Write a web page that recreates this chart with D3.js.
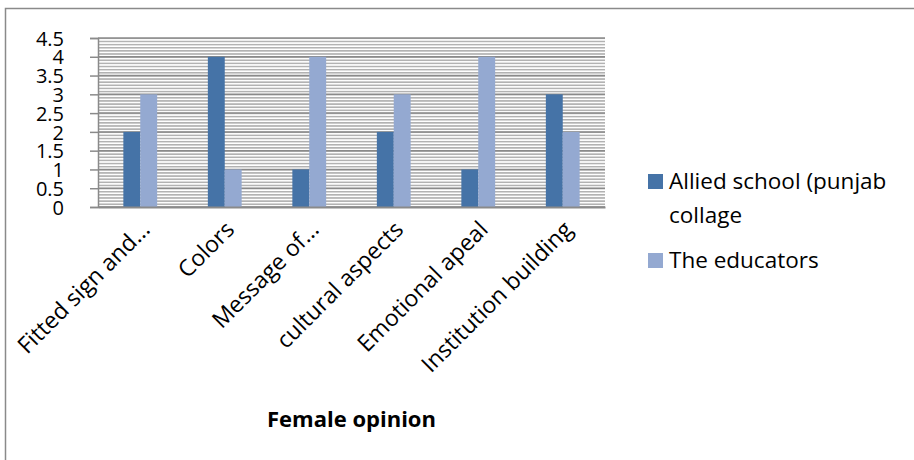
<!DOCTYPE html>
<html><head><meta charset="utf-8">
<script src="https://cdn.jsdelivr.net/npm/d3@7"></script>
<style>html,body{margin:0;padding:0;background:#fff;}svg{display:block;}</style>
</head><body>
<svg id="c" width="914" height="460"></svg>
<script>
const categories = ["Fitted sign and...", "Colors", "Message of...", "cultural aspects", "Emotional apeal", "Institution building"];
const seriesNames = ["Allied school (punjab collage", "The educators"];
const allied = [2, 4, 1, 2, 1, 3];
const educators = [3, 1, 4, 3, 4, 2];
const yTicks = [0, 0.5, 1, 1.5, 2, 2.5, 3, 3.5, 4, 4.5];
const xTitle = "Female opinion";

const colors = ["#4573a7", "#94a9d1"];
const font = "'Open Sans', sans-serif";
const svg = d3.select("#c");

// outer frame
svg.append("rect").attr("x", 5.5).attr("y", 8.5).attr("width", 920).attr("height", 470)
  .attr("fill", "none").attr("stroke", "#8a8a8a").attr("stroke-width", 1.5);

const L = 98, R = 605, T = 38, B = 207;
const x = d3.scaleBand().domain(categories).range([L, R]).paddingInner(0.6).paddingOuter(0.3);
const xs = d3.scaleBand().domain([0, 1]).range([0, x.bandwidth()]);
const y = d3.scaleLinear().domain([0, 4.5]).range([B, T]);

// pattern
const defs = svg.append("defs");
const pat = defs.append("pattern").attr("id", "hatch").attr("patternUnits", "userSpaceOnUse")
  .attr("width", 6).attr("height", 3.13);
pat.append("rect").attr("width", 6).attr("height", 3.13).attr("fill", "#ffffff");
pat.append("rect").attr("y", 0).attr("width", 6).attr("height", 1.6).attr("fill", "#b2b2b2");

svg.append("rect").attr("x", L).attr("y", T).attr("width", R - L).attr("height", B - T)
  .attr("fill", "url(#hatch)");

// gridlines
svg.append("g").selectAll("line").data(yTicks).join("line")
  .attr("x1", L).attr("x2", R).attr("y1", d => y(d)).attr("y2", d => y(d))
  .attr("stroke", "#8a8a8a").attr("stroke-width", 1.5);

// bars
const series = [allied, educators];
series.forEach((vals, si) => {
  svg.append("g").selectAll("rect").data(vals).join("rect")
    .attr("x", (d, i) => x(categories[i]) + xs(si))
    .attr("width", xs.bandwidth())
    .attr("y", d => y(d))
    .attr("height", d => y(0) - y(d))
    .attr("fill", colors[si]);
});

// y axis
const yAxis = d3.axisLeft(y).tickValues(yTicks).tickSize(8).tickPadding(26).tickFormat(d3.format("~g"));
const ga = svg.append("g").attr("transform", `translate(${L},0)`).call(yAxis);
ga.select(".domain").attr("stroke", "#8a8a8a").attr("stroke-width", 1.5);
ga.selectAll(".tick line").attr("stroke", "#8a8a8a").attr("stroke-width", 1.5);
ga.selectAll(".tick text").attr("font-family", font).attr("font-size", 20).attr("fill", "#000")
  .attr("dy", "0.36em");

// x axis
const xAxis = d3.axisBottom(x).tickSize(0).tickPadding(0);
const gx = svg.append("g").attr("transform", `translate(0,${B})`).call(xAxis);
gx.select(".domain").attr("stroke", "#8a8a8a").attr("stroke-width", 2);
gx.selectAll(".tick text").attr("font-family", font).attr("font-size", 23).attr("fill", "#000")
  .attr("text-anchor", "end").attr("dy", 0).attr("y", 0)
  .attr("transform", "translate(11,24) rotate(-45)");

// x title
svg.append("text").attr("x", (L + R) / 2).attr("y", 427).attr("text-anchor", "middle")
  .attr("font-family", font).attr("font-weight", "bold").attr("font-size", 22).text(xTitle);

// legend
const legendLines = [["Allied school (punjab", "collage"], ["The educators"]];
const legY = [174, 253];
legendLines.forEach((lines, i) => {
  const g = svg.append("g");
  g.append("rect").attr("x", 648).attr("y", legY[i]).attr("width", 15).attr("height", 15).attr("fill", colors[i]);
  lines.forEach((t, j) => {
    g.append("text").attr("x", 669).attr("y", legY[i] + 15 + j * 34)
      .attr("font-family", font).attr("font-size", 22.5).attr("fill", "#000").text(t);
  });
});
</script>
</body></html>
